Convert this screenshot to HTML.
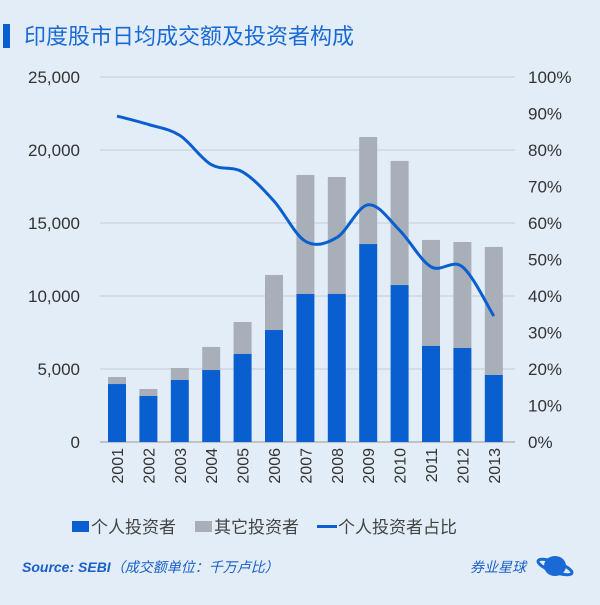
<!DOCTYPE html><html><head><meta charset="utf-8"><style>
body{margin:0;width:600px;height:600px;background:#e2edf8;overflow:hidden;font-family:"Liberation Sans","Noto Sans CJK SC",sans-serif}
</style></head><body>
<svg id="s" width="600" height="600" xmlns="http://www.w3.org/2000/svg" font-family="Liberation Sans, Noto Sans CJK SC, sans-serif">
<rect x="0" y="0" width="600" height="600" fill="#e2edf8"/>
<rect x="3" y="24" width="7" height="24" fill="#0a5fd0"/>
<text x="24" y="44" font-size="22" fill="#1a6ad6">印度股市日均成交额及投资者构成</text>
<g id="g"></g>
<g font-size="17" fill="#444">
<rect x="72" y="521" width="17" height="11" fill="#0a5fd0"/><text x="91" y="533">个人投资者</text>
<rect x="195" y="521" width="17" height="11" fill="#a8afb8"/><text x="214" y="533">其它投资者</text>
<rect x="317" y="525" width="20" height="3" fill="#0a5fd0"/><text x="338" y="533">个人投资者占比</text>
</g>
<text x="22" y="572" font-size="14" font-style="italic" font-weight="bold" fill="#1a5fc8">Source: SEBI<tspan font-weight="normal">（成交额单位：千万卢比）</tspan></text>
<text x="470" y="572" font-size="14" font-style="italic" fill="#1a5fc8">券业星球</text>
<ellipse cx="555" cy="566" rx="11" ry="10" fill="#1a6ad6"/>
<ellipse cx="555" cy="567" rx="18" ry="5" fill="none" stroke="#1a6ad6" stroke-width="3" transform="rotate(20 555 567)"/>
</svg>
<script>
var g=document.getElementById('g'),h='';
var y0=442,H=365;
for(var i=0;i<=5;i++){var y=y0-i*73;
 if(i>0)h+='<line x1="100" x2="515" y1="'+y+'" y2="'+y+'" stroke="#c5ccd6" stroke-width="1"/>';
 h+='<text x="80" y="'+(y+6)+'" font-size="17" fill="#333" text-anchor="end">'+(i*5000).toLocaleString('en-US')+'</text>';}
for(var i=0;i<=10;i++){var y=y0-i*36.5;
 h+='<text x="528" y="'+(y+6)+'" font-size="17" fill="#333">'+(i*10)+'%</text>';}
h+='<line x1="100" x2="515" y1="442" y2="442" stroke="#999" stroke-width="1"/>';
var b=[3970,3150,4250,4930,6030,7670,10140,10140,13560,10750,6580,6440,4590];
var t=[4450,3630,5070,6510,8220,11440,18290,18150,20890,19250,13840,13700,13360];
var p=[89.3,87,84,76,74,66,55,56,65,58,48,48,34.5];
var pts=[];
for(var i=0;i<13;i++){var cx=117+i*31.4;
 var yb=y0-b[i]/25000*H,yt=y0-t[i]/25000*H;
 h+='<rect x="'+(cx-9)+'" y="'+yt+'" width="18" height="'+(yb-yt)+'" fill="#a8afb8"/>';
 h+='<rect x="'+(cx-9)+'" y="'+yb+'" width="18" height="'+(y0-yb)+'" fill="#0a5fd0"/>';
 h+='<text transform="translate('+(cx+6)+',448) rotate(-90)" font-size="16" fill="#333" text-anchor="end">'+(2001+i)+'</text>';
 pts.push([cx,y0-p[i]/100*H]);}
var d='M'+pts[0];
for(var i=0;i<12;i++){var p0=pts[Math.max(0,i-1)],p1=pts[i],p2=pts[i+1],p3=pts[Math.min(12,i+2)];
 var c1=[p1[0]+(p2[0]-p0[0])/6,p1[1]+(p2[1]-p0[1])/6],c2=[p2[0]-(p3[0]-p1[0])/6,p2[1]-(p3[1]-p1[1])/6];
 d+=' C'+c1+' '+c2+' '+p2;}
h+='<path d="'+d+'" fill="none" stroke="#0a5fd0" stroke-width="3"/>';
g.innerHTML=h;
</script>
</body></html>
